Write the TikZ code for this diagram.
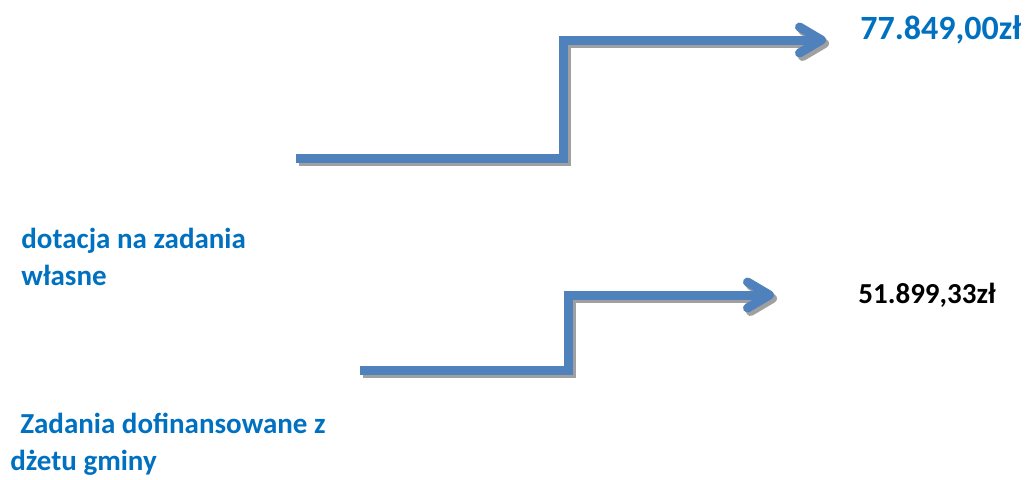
\documentclass[tikz,border=0pt]{standalone}
\usepackage{fontspec}
\setmainfont{Carlito}
\usetikzlibrary{arrows.meta}
\definecolor{flowblue}{RGB}{79,129,189}
\definecolor{textblue}{RGB}{0,112,192}
\definecolor{shadowgray}{RGB}{160,160,160}
\begin{document}
\begin{tikzpicture}[x=0.5pt, y=-0.5pt,
    stair/.style={line width=4.5pt, -{Straight Barb[length=11pt,width=13pt,round]}},
    stairshadow/.style={stair, shadowgray, transform canvas={xshift=1.5pt, yshift=-1.75pt}},
    textlabel/.style={font=\bfseries\fontsize{14.5}{16.5}\selectfont, text=textblue, align=left, inner sep=0pt}]
    \useasboundingbox (0,0) rectangle (1028,479);
    % upper step
    \coordinate (s1) at (296,158);
    \coordinate (b1) at (563,40);
    \coordinate (e1) at (826,40);
    \draw[stairshadow] (s1) -| (b1) -- (e1);
    \draw[stair, flowblue] (s1) -| (b1) -- (e1);
    \node[textlabel, font=\bfseries\fontsize{17}{20}\selectfont, anchor=base west] (v1) at (860,39) {77.849,00zł};
    % lower step
    \coordinate (s2) at (360,370);
    \coordinate (b2) at (568,295);
    \coordinate (e2) at (774,295);
    \draw[stairshadow] (s2) -| (b2) -- (e2);
    \draw[stair, flowblue] (s2) -| (b2) -- (e2);
    \node[textlabel, text=black, anchor=base west] (v2) at (858,303) {51.899,33zł};
    % labels
    \node[textlabel, anchor=base west] (own) at (21,285) {dotacja na zadania\\[2pt]własne};
    \node[textlabel, anchor=base west] (co) at (10,470) {\hspace*{5pt}Zadania dofinansowane z\\[2pt]dżetu gminy};
\end{tikzpicture}
\end{document}
